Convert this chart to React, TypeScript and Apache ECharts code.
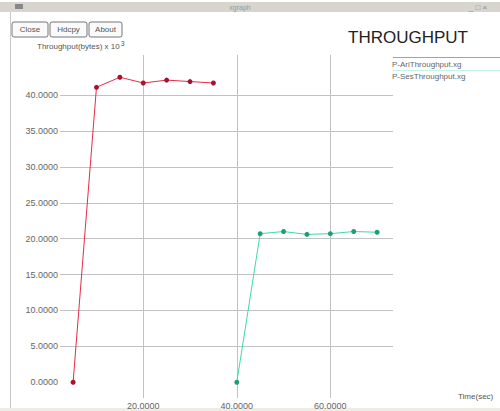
import React, { useEffect, useRef } from "react";
import * as echarts from "echarts";

const ariTime = [5, 10, 15, 20, 25, 30, 35];
const ariThroughput = [0, 41.1, 42.5, 41.7, 42.1, 41.9, 41.7];
const sesTime = [40, 45, 50, 55, 60, 65, 70];
const sesThroughput = [0, 20.7, 21.0, 20.6, 20.7, 21.0, 20.9];
const yLabelValues = [0, 5, 10, 15, 20, 25, 30, 35, 40];
const yGridValues = [5, 10, 15, 20, 25, 30, 35, 40];
const xTickValues = [20, 40, 60];
const seriesNames = ["P-AriThroughput.xg", "P-SesThroughput.xg"];
const buttonLabels = ["Close", "Hdcpy", "About"];

const RED = "#e62c48";
const GREEN = "#3ddba8";
const GRID = "#c2c2c2";
const FONT = "Liberation Sans, Arial, sans-serif";

export default function App() {
  const ref = useRef<HTMLDivElement>(null);
  useEffect(() => {
    if (!ref.current) return;
    const chart = echarts.init(ref.current, null, { renderer: "svg" });
    const btnX = [12, 50, 89];
    const btnW = [36, 37, 33];
    const buttons: any[] = [];
    buttonLabels.forEach((b, i) => {
      buttons.push({
        type: "rect",
        shape: { x: btnX[i], y: 22, width: btnW[i], height: 15, r: 2 },
        style: { fill: "#fafafa", stroke: "#777", lineWidth: 1 },
      });
      buttons.push({
        type: "text",
        x: btnX[i] + btnW[i] / 2,
        y: 29.5,
        style: { text: b, fontSize: 8, fill: "#555", align: "center", verticalAlign: "middle", fontFamily: FONT },
      });
    });
    chart.setOption({
      animation: false,
      backgroundColor: "#ffffff",
      textStyle: { fontFamily: FONT },
      grid: { left: 60, right: 107, top: 55, bottom: 13, containLabel: false, show: false },
      legend: {
        data: seriesNames,
        orient: "vertical",
        left: 387,
        top: 59.5,
        itemWidth: 0,
        itemHeight: 9,
        itemGap: 3,
        padding: 0,
        icon: "rect",
        selectedMode: false,
        textStyle: { fontSize: 8, color: "#666", fontFamily: FONT },
      },
      xAxis: {
        type: "value",
        min: 2.2,
        max: 73.4,
        axisLine: { show: false },
        axisTick: { show: false },
        axisLabel: {
          customValues: xTickValues,
          formatter: (v: number) => v.toFixed(4),
          fontSize: 9,
          color: "#666",
          margin: 3,
          verticalAlign: "top",
        },
        splitLine: { show: false },
      },
      yAxis: {
        type: "value",
        min: -2.2,
        max: 45.6,
        axisLine: { show: false },
        axisTick: { show: false },
        axisLabel: {
          customValues: yLabelValues,
          formatter: (v: number) => v.toFixed(4),
          fontSize: 9,
          color: "#666",
          margin: 2,
        },
        splitLine: { show: false },
      },
      series: [
        {
          name: seriesNames[0],
          type: "line",
          data: ariTime.map((t, i) => [t, ariThroughput[i]]),
          lineStyle: { color: RED, width: 1 },
          itemStyle: { color: "#a8122e", borderWidth: 0 },
          symbol: "circle",
          symbolSize: 5,
          z: 3,
          markLine: {
            silent: true,
            symbol: "none",
            label: { show: false },
            lineStyle: { color: GRID, width: 1, type: "solid" },
            data: [
              ...xTickValues.map((v) => ({ xAxis: v })),
              ...yGridValues.map((v) => ({ yAxis: v })),
            ],
            z: 1,
          },
        },
        {
          name: seriesNames[1],
          type: "line",
          data: sesTime.map((t, i) => [t, sesThroughput[i]]),
          lineStyle: { color: GREEN, width: 1 },
          itemStyle: { color: "#1f9e76", borderWidth: 0 },
          symbol: "circle",
          symbolSize: 5,
          z: 3,
        },
      ],
      graphic: [
        { type: "rect", shape: { x: 0, y: 2, width: 500, height: 10 }, style: { fill: "#d8d5cf" } },
        { type: "rect", shape: { x: 15, y: 4, width: 8, height: 5 }, style: { fill: "#888" } },
        { type: "text", x: 240, y: 7, style: { text: "xgraph", fontSize: 7, fill: "#999", align: "center", verticalAlign: "middle", fontFamily: FONT } },
        { type: "text", x: 478, y: 7, style: { text: "_ □ ×", fontSize: 8, fill: "#888", align: "center", verticalAlign: "middle", fontFamily: FONT } },
        { type: "rect", shape: { x: 10, y: 12, width: 1, height: 399 }, style: { fill: "#c8c8c8" } },
        { type: "rect", shape: { x: 0, y: 408, width: 500, height: 3 }, style: { fill: "#efece4" } },
        ...buttons,
        {
          type: "text",
          x: 348,
          y: 37,
          style: { text: "THROUGHPUT", fontSize: 17, fill: "#222", verticalAlign: "middle", fontFamily: FONT },
        },
        {
          type: "text",
          x: 37,
          y: 46,
          style: {
            text: "Throughput(bytes) x 10{s|3}",
            fontSize: 8,
            fill: "#555",
            verticalAlign: "middle",
            fontFamily: FONT,
            rich: { s: { fontSize: 7, fill: "#555", verticalAlign: "top", padding: [0, 0, 5, 1] } },
          },
        },
        { type: "rect", shape: { x: 393, y: 57, width: 107, height: 1 }, style: { fill: RED, opacity: 0.6 } },
        { type: "rect", shape: { x: 393, y: 70, width: 107, height: 1 }, style: { fill: GREEN, opacity: 0.3 } },
        { type: "text", x: 458, y: 396, style: { text: "Time(sec)", fontSize: 8, fill: "#555", verticalAlign: "middle", fontFamily: FONT } },
      ],
    });
    return () => chart.dispose();
  }, []);
  return (
    <div
      ref={ref}
      style={{ position: "fixed", left: 0, top: 0, width: 500, height: 411 }}
    />
  );
}
